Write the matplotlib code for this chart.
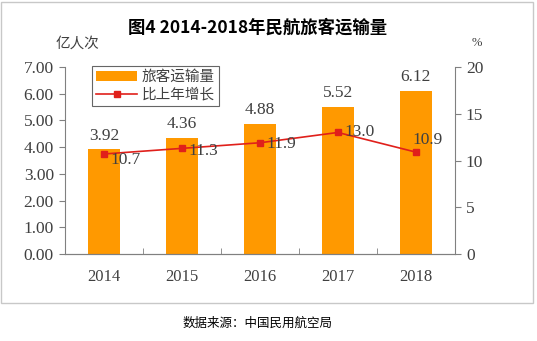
import matplotlib.pyplot as plt
from matplotlib.patches import Rectangle

plt.rcParams['font.family'] = ['Liberation Serif', 'Noto Sans CJK SC']

years = ['2014', '2015', '2016', '2017', '2018']
passengers = [3.92, 4.36, 4.88, 5.52, 6.12]
growth = [10.7, 11.3, 11.9, 13.0, 10.9]
left_ticks = [0, 1, 2, 3, 4, 5, 6, 7]
right_ticks = [0, 5, 10, 15, 20]

bar_color = '#FF9900'
line_color = '#E0201B'
text_color = '#404040'

fig = plt.figure(figsize=(5.37, 3.41), dpi=100)
ax = fig.add_axes([0.121, 0.255, 0.726, 0.5485])
ax2 = ax.twinx()

x = list(range(len(years)))
bars = ax.bar(x, passengers, width=0.41, color=bar_color, label='旅客运输量', zorder=2)
ax.set_xlim(-0.5, len(years) - 0.5)
ax.set_ylim(0, 7)
ax.set_yticks(left_ticks)
ax.set_yticklabels([f'{v:.2f}' for v in left_ticks])
ax.set_xticks(x)
ax.set_xticklabels(years)
ax.set_xticks([i + 0.5 for i in x[:-1]], minor=True)
ax.tick_params(axis='x', which='major', length=0, pad=11, labelsize=12, colors=text_color)
ax.tick_params(axis='x', which='minor', direction='in', length=4, color='#808080')
ax.tick_params(axis='y', direction='out', length=4, labelsize=12.5, colors=text_color,
               color='#808080', pad=4)

for i, v in enumerate(passengers):
    ax.text(i, v + 0.2, f'{v:.2f}', ha='center', va='bottom', fontsize=12.5, color=text_color)

line, = ax2.plot(x, growth, color=line_color, lw=1.2, marker='s', ms=5,
                 label='比上年增长', zorder=3)
ax2.set_ylim(0, 20)
ax2.set_yticks(right_ticks)
ax2.tick_params(axis='y', direction='out', length=4, labelsize=12.5, colors=text_color,
                color='#808080', pad=4)

offsets = [(0.08, -0.6), (0.08, -0.3), (0.08, -0.1), (0.08, 0.0), (-0.05, 1.3)]
for i, v in enumerate(growth):
    dx, dy = offsets[i]
    ax2.text(i + dx, v + dy, f'{v:.1f}', ha='left', va='center', fontsize=12.5, color=text_color)

for side in ('left', 'bottom'):
    ax.spines[side].set_color('#808080')
ax2.spines['right'].set_color('#808080')
ax2.spines['bottom'].set_color('#808080')
for side in ('top', 'right'):
    ax.spines[side].set_visible(False)
for side in ('top', 'left'):
    ax2.spines[side].set_visible(False)

leg = ax.legend(handles=[bars, line], loc='upper left', bbox_to_anchor=(0.05, 1.045),
                frameon=True, fancybox=False, edgecolor='#404040', fontsize=10.5,
                handlelength=2.8, borderpad=0.3, labelspacing=0.25, handletextpad=0.3)
leg.get_frame().set_linewidth(0.8)
for t in leg.get_texts():
    t.set_family('Noto Sans CJK SC')
    t.set_color(text_color)

fig.text(0.48, 0.92, '图4 2014-2018年民航旅客运输量', ha='center', va='center',
         fontsize=12.5, fontweight='bold', family=['Noto Sans CJK SC'])
fig.text(0.145, 0.873, '亿人次', ha='center', va='center', fontsize=10.5,
         family=['Noto Sans CJK SC'], color=text_color)
fig.text(0.888, 0.873, '%', ha='center', va='center', fontsize=9, color=text_color)
fig.text(0.48, 0.052, '数据来源：中国民用航空局', ha='center', va='center', fontsize=9,
         family=['Noto Sans CJK SC'])

fig.patches.append(Rectangle((0.002, 0.112), 0.99, 0.882, transform=fig.transFigure,
                             fill=False, edgecolor='#C8C8C8', lw=1))

fig.savefig('out.png', dpi=100)
